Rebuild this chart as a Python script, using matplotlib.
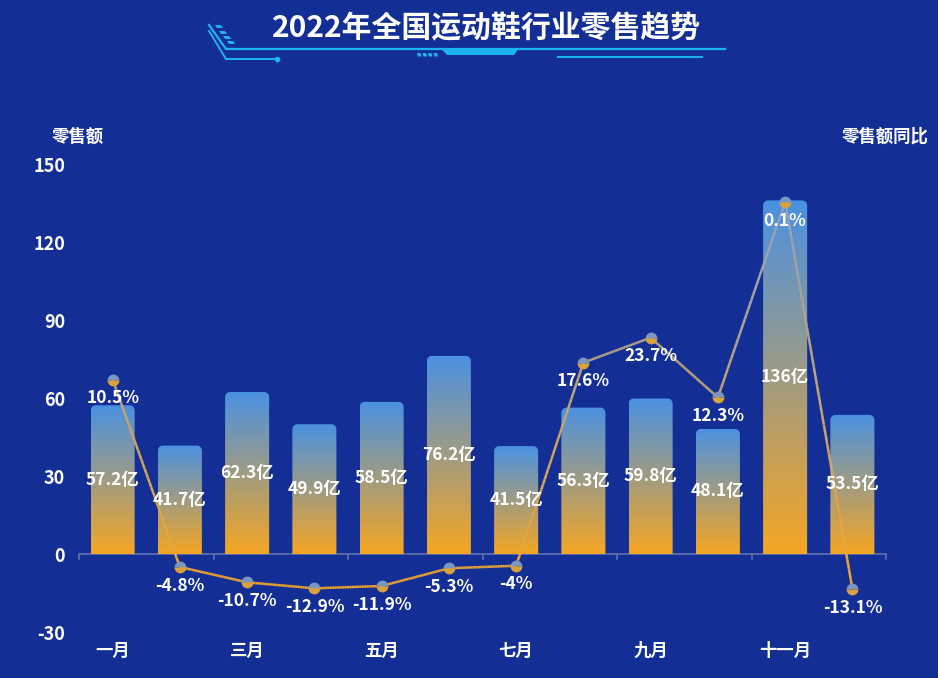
import numpy as np
import matplotlib
matplotlib.use("Agg")
import matplotlib.pyplot as plt
from matplotlib.colors import LinearSegmentedColormap
from matplotlib.collections import LineCollection
from matplotlib.patches import Polygon

plt.rcParams['font.family'] = ['Noto Sans CJK SC', 'DejaVu Sans']
plt.rcParams['axes.unicode_minus'] = False

# ---- data ----
months = ["一月", "二月", "三月", "四月", "五月", "六月",
          "七月", "八月", "九月", "十月", "十一月", "十二月"]
sales = [57.2, 41.7, 62.3, 49.9, 58.5, 76.2, 41.5, 56.3, 59.8, 48.1, 136, 53.5]
yoy_labels = [10.5, -4.8, -10.7, -12.9, -11.9, -5.3, -4, 17.6, 23.7, 12.3, 0.1, -13.1]
# height of each line point (left axis units)
yoy_pos = [67.1, -5.0, -10.9, -13.2, -12.3, -5.5, -4.5, 73.6, 83.2, 60.2, 135.4, -13.4]
yticks = [-30, 0, 30, 60, 90, 120, 150]

BG = "#132f96"
WHITE = "#ffffff"
CYAN = "#1cb4ee"
bar_cmap = LinearSegmentedColormap.from_list("bar", ["#f5a623", "#4a91e2"])
line_cmap = LinearSegmentedColormap.from_list("line", ["#f2a52a", "#8fa2c2"])

W, H = 938, 678
fig = plt.figure(figsize=(W / 100, H / 100), dpi=100, facecolor=BG)
ax = fig.add_axes([79 / W, 1 - 632 / H, 807 / W, 468 / H], facecolor=BG)
ax.set_xlim(-0.5, 11.5)
ax.set_ylim(-30, 150)
for s in ax.spines.values():
    s.set_visible(False)
ax.set_xticks([])
ax.set_yticks(yticks)
ax.tick_params(axis='y', length=0, pad=10, labelcolor=WHITE, labelsize=13)
for t in ax.get_yticklabels():
    t.set_fontweight('bold')

# x axis line at zero with ticks every two categories
ax.axhline(0, color="#5a6cab", lw=1.3, zorder=1)
for b in np.arange(-0.5, 12, 2):
    ax.plot([b, b], [0, -1.9], color="#5a6cab", lw=1.3, zorder=1, clip_on=False)
for i in range(0, 12, 2):
    ax.text(i, -0.041, months[i], transform=ax.get_xaxis_transform(),
            ha='center', va='center', color=WHITE, fontsize=12.5, fontweight='bold')

# gradient bars with rounded top corners
bw = 0.655
rx, ry = 0.075, 1.95
grad = np.linspace(0, 1, 256).reshape(-1, 1)
for i, v in enumerate(sales):
    x0, x1 = i - bw / 2, i + bw / 2
    th = np.linspace(0, np.pi / 2, 12)
    pts = [(x0, 0), (x1, 0)]
    pts += [(x1 - rx + rx * np.cos(t), v - ry + ry * np.sin(t)) for t in th]
    pts += [(x0 + rx - rx * np.cos(t), v - ry + ry * np.sin(t)) for t in th[::-1]]
    poly = Polygon(pts, closed=True, facecolor='none', edgecolor='none')
    ax.add_patch(poly)
    im = ax.imshow(grad, cmap=bar_cmap, extent=[x0, x1, 0, v], origin='lower',
                   aspect='auto', zorder=2)
    im.set_clip_path(poly)
    ax.text(i, v / 2, f"{v:g}亿", ha='center', va='center', color=WHITE,
            fontsize=12.5, fontweight='bold', zorder=6)

# gradient line (colour follows height)
xs, ys = [], []
for i in range(len(yoy_pos) - 1):
    f = np.linspace(0, 1, 40, endpoint=False)
    xs.extend(i + f)
    ys.extend(yoy_pos[i] + (yoy_pos[i + 1] - yoy_pos[i]) * f)
xs.append(len(yoy_pos) - 1)
ys.append(yoy_pos[-1])
pts = np.column_stack([xs, ys]).reshape(-1, 1, 2)
segs = np.concatenate([pts[:-1], pts[1:]], axis=1)
lo, hi = min(yoy_pos), max(yoy_pos)
mid = (np.array(ys[:-1]) + np.array(ys[1:])) / 2
lc = LineCollection(segs, colors=line_cmap((mid - lo) / (hi - lo)), linewidths=1.8, zorder=3)
ax.add_collection(lc)
ax.plot(range(12), yoy_pos, ls='none', marker='o', markersize=8.5, fillstyle='top',
        markerfacecolor="#7d96be", markerfacecoloralt="#d9a23c", markeredgewidth=0,
        zorder=4)
for i, (p, lab) in enumerate(zip(yoy_pos, yoy_labels)):
    ax.annotate(f"{lab:g}%", (i, p), xytext=(0, -13.5), textcoords='offset points',
                ha='center', va='center', color=WHITE, fontsize=12.5,
                fontweight='bold', zorder=6)

# axis names
fig.text(78 / W, 1 - 137 / H, "零售额", ha='center', va='center', color=WHITE,
         fontsize=12.5, fontweight='bold')
fig.text(929 / W, 1 - 137 / H, "零售额同比", ha='right', va='center', color=WHITE,
         fontsize=12.5, fontweight='bold')

# title and decoration
over = fig.add_axes([0, 0, 1, 1], facecolor='none')
over.set_xlim(0, W)
over.set_ylim(H, 0)
over.axis('off')
over.text(487, 28, "2022年全国运动鞋行业零售趋势", ha='center', va='center',
          color=WHITE, fontsize=21.5, fontweight='bold')
over.plot([209, 226, 725], [25, 49, 49], color=CYAN, lw=1.6)
over.plot([209, 226, 277], [31, 59, 59], color=CYAN, lw=1.4)
over.plot([277], [59], 'o', color=CYAN, markersize=3)
for dx, dy in [(215, 25), (219, 31), (223, 36), (227, 41)]:
    over.add_patch(Polygon([(dx, dy), (dx + 6, dy), (dx + 8, dy + 3), (dx + 2, dy + 3)],
                           closed=True, color=CYAN, lw=0))
for k in range(4):
    sx = 417 + k * 5.5
    over.add_patch(Polygon([(sx, 53), (sx + 3.5, 53), (sx + 4.5, 56.5), (sx + 1, 56.5)],
                           closed=True, color=CYAN, lw=0))
over.add_patch(Polygon([(442, 49.5), (518, 49.5), (514, 55), (447, 55)],
                       closed=True, color=CYAN, lw=0))
over.plot([558, 702], [57, 57], color=CYAN, lw=1.4)

fig.savefig("out.png", dpi=100, facecolor=BG)
